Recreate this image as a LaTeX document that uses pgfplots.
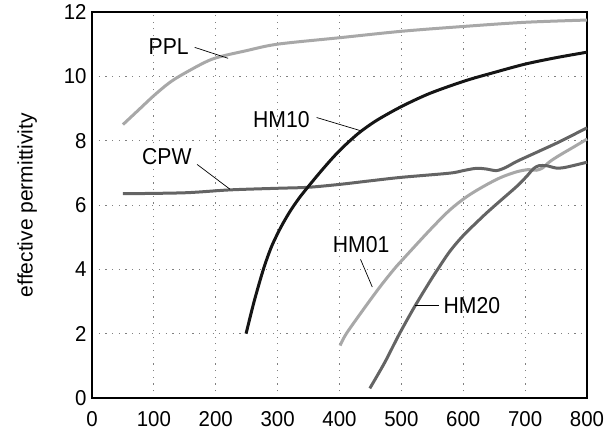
\documentclass[border=0pt]{standalone}
\usepackage{pgfplots}
\pgfplotsset{compat=1.18}
\usepackage{fontspec}
\setmainfont{Liberation Sans}
\newfontfamily\cf[FakeStretch=0.92]{Liberation Sans}
\newfontfamily\tf[FakeStretch=0.95]{Liberation Sans}
\definecolor{lightc}{HTML}{A8A8A8}
\definecolor{darkc}{HTML}{646464}
\definecolor{blk}{HTML}{151515}
\begin{document}
\begin{tikzpicture}
\begin{axis}[
  at={(0,0)}, anchor=south west,
  scale only axis, width=495bp, height=386bp,
  xmin=0, xmax=800, ymin=0, ymax=12,
  xtick={0,100,...,800}, ytick={0,2,...,12},
  major tick length=0pt,
  grid=major,
  major grid style={gray, line width=0.9bp, dash pattern=on 1.2bp off 5.5bp},
  axis line style={black, line width=1.6bp},
  tick label style={font=\tf\fontsize{21.5bp}{24bp}\selectfont},
  /pgf/number format/assume math mode=true,
  /pgf/number format/1000 sep={},
  xticklabel style={yshift=-10bp},
  yticklabel style={xshift=-2bp},
  ylabel={effective permittivity},
  ylabel style={font=\fontsize{21bp}{24bp}\selectfont, yshift=20bp},
  every axis plot/.append style={line width=3bp, smooth, tension=0.5, no marks},
  clip=false,
]
% PPL
\addplot[lightc] coordinates {(50,8.5)(75,8.95)(100,9.4)(125,9.8)(150,10.1)(195,10.54)(250,10.8)(300,11.0)(400,11.2)(500,11.4)(600,11.55)(700,11.68)(800,11.75)};
% CPW
\addplot[darkc] coordinates {(50,6.35)(150,6.38)(223,6.47)(300,6.52)(349,6.55)(400,6.64)(449,6.75)(500,6.86)(578,6.99)(600,7.07)(621,7.14)(637,7.12)(654,7.07)(670,7.18)(686,7.35)(720,7.65)(756,7.97)(800,8.4)};
% HM10
\addplot[blk] coordinates {(249,2.0)(262,3.0)(277,4.0)(290,4.7)(305,5.3)(320,5.8)(335,6.22)(349,6.56)(367,6.98)(385,7.38)(400,7.69)(417,8.0)(434,8.28)(460,8.63)(500,9.06)(546,9.47)(603,9.86)(650,10.12)(700,10.38)(750,10.58)(800,10.75)};
% HM01
\addplot[lightc] coordinates {(401,1.63)(411,2.0)(440,2.79)(466,3.47)(488,4.0)(500,4.26)(546,5.22)(578,5.84)(605,6.25)(632,6.57)(660,6.85)(686,7.03)(705,7.1)(718,7.08)(728,7.15)(740,7.35)(756,7.55)(780,7.82)(800,8.05)};
% HM20
\addplot[darkc] coordinates {(449,0.3)(473,1.1)(497,2.0)(522,2.86)(546,3.62)(557,3.95)(578,4.55)(600,5.05)(632,5.65)(648,5.93)(667,6.25)(686,6.57)(702,6.88)(713,7.12)(722,7.22)(735,7.22)(750,7.15)(765,7.17)(800,7.33)};
% labels
\begin{scope}[every node/.style={font=\cf\fontsize{23bp}{26bp}\selectfont, inner sep=0pt}]
\node at (axis cs:124,10.94) {PPL};
\draw[line width=0.7bp] (axis cs:166,10.9) -- (axis cs:220,10.56);
\node at (axis cs:306,8.67) {HM10};
\draw[line width=0.7bp] (axis cs:363,8.72) -- (axis cs:434,8.31);
\node at (axis cs:121,7.5) {CPW};
\draw[line width=0.7bp] (axis cs:170,7.26) -- (axis cs:223,6.49);
\node at (axis cs:435,4.76) {HM01};
\draw[line width=0.7bp] (axis cs:434,4.31) -- (axis cs:453,3.45);
\node at (axis cs:614,2.87) {HM20};
\draw[line width=0.7bp] (axis cs:522,2.87) -- (axis cs:561,2.87);
\end{scope}
\end{axis}
\pgfresetboundingbox
\path (-92bp,-38bp) rectangle (514bp,398bp);
\end{tikzpicture}
\end{document}
